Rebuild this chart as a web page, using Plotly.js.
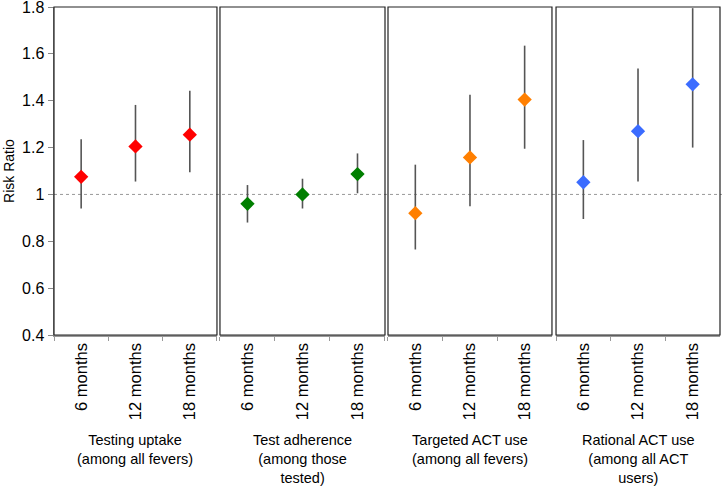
<!DOCTYPE html>
<html lang="en">
<head>
    <meta charset="UTF-8">
    <title>Risk ratios by outcome</title>
    <script src="https://cdn.plot.ly/plotly-3.0.1.min.js" charset="utf-8"></script>
    <style>
        body { margin: 0; background: #fff; }
    </style>
</head>
<body>
    <div id="plot" style="width: 722px; height: 486px;"></div>
    <script>
        const periods = ['6 months', '12 months', '18 months'];
        const groups = [
            'Testing uptake<br>(among all fevers)',
            'Test adherence<br>(among those<br>tested)',
            'Targeted ACT use<br>(among all fevers)',
            'Rational ACT use<br>(among all ACT<br>users)'
        ];
        const colors = ['#ff0000', '#007f00', '#ff7f00', '#3b6cff'];
        const yTicks = [0.4, 0.6, 0.8, 1, 1.2, 1.4, 1.6, 1.8];

        // point estimates and 95% CI for each outcome
        const rr = [
            [1.075, 1.205, 1.255],
            [0.96, 1.0, 1.087],
            [0.92, 1.158, 1.405],
            [1.052, 1.27, 1.47]
        ];
        const lower = [
            [0.94, 1.055, 1.095],
            [0.88, 0.94, 1.005],
            [0.765, 0.95, 1.195],
            [0.895, 1.055, 1.2]
        ];
        const upper = [
            [1.235, 1.382, 1.442],
            [1.04, 1.067, 1.175],
            [1.127, 1.425, 1.635],
            [1.232, 1.537, 1.795]
        ];
        const refLine = 1;

        const domains = [[0, 0.2447], [0.2492, 0.497], [0.5015, 0.7477], [0.7538, 1]];
        const font = { family: 'Liberation Sans, Arial, sans-serif', color: '#000' };

        const traces = rr.map((vals, i) => ({
            x: periods,
            y: vals,
            type: 'scatter',
            mode: 'markers',
            xaxis: i === 0 ? 'x' : 'x' + (i + 1),
            yaxis: 'y',
            marker: { symbol: 'diamond', size: 11, color: colors[i] },
            error_y: {
                type: 'data',
                symmetric: false,
                array: vals.map((v, j) => upper[i][j] - v),
                arrayminus: vals.map((v, j) => v - lower[i][j]),
                color: '#555',
                thickness: 1.6,
                width: 0
            },
            hoverinfo: 'x+y'
        }));

        const layout = {
            width: 722,
            height: 486,
            margin: { l: 54, r: 2, t: 7, b: 151 },
            showlegend: false,
            paper_bgcolor: '#fff',
            plot_bgcolor: '#fff',
            font: font,
            yaxis: {
                range: [0.4, 1.8],
                tickmode: 'array',
                tickvals: yTicks,
                ticktext: yTicks.map(String),
                ticklabeloverflow: 'allow',
                showgrid: false,
                zeroline: false,
                showline: true,
                linecolor: '#888',
                linewidth: 1.5,
                ticks: 'outside',
                ticklen: 5,
                tickcolor: '#888',
                tickfont: { size: 16 },
                title: { text: 'Risk Ratio', font: { size: 14 }, standoff: 4 }
            },
            shapes: [
                {
                    type: 'line', xref: 'paper', yref: 'y',
                    x0: 0, x1: 1.003, y0: refLine, y1: refLine,
                    line: { color: '#999', width: 1, dash: 'dot' },
                    layer: 'below'
                }
            ],
            annotations: []
        };

        domains.forEach((d, i) => {
            const key = i === 0 ? 'xaxis' : 'xaxis' + (i + 1);
            const ref = i === 0 ? 'x' : 'x' + (i + 1);
            layout[key] = {
                domain: d,
                anchor: 'y',
                type: 'category',
                range: [-0.5, 2.5],
                tickson: 'boundaries',
                ticks: 'outside',
                ticklen: 4,
                tickcolor: '#999',
                tickangle: -90,
                tickfont: { size: 16.5 },
                showgrid: false,
                zeroline: false,
                showline: true,
                linecolor: '#999',
                linewidth: 1.5
            };
            layout.shapes.push({
                type: 'rect', xref: ref + ' domain', yref: 'y domain',
                x0: 0, x1: 1, y0: 0, y1: 1,
                line: { color: '#222', width: 1.2 },
                layer: 'above'
            });
            layout.annotations.push({
                text: groups[i],
                xref: ref + ' domain', yref: 'paper',
                x: 0.5, y: -0.29,
                xanchor: 'center', yanchor: 'top',
                showarrow: false,
                align: 'center',
                font: { size: 14.5 }
            });
        });

        Plotly.newPlot('plot', traces, layout, { displayModeBar: false, staticPlot: true });
    </script>
</body>
</html>
